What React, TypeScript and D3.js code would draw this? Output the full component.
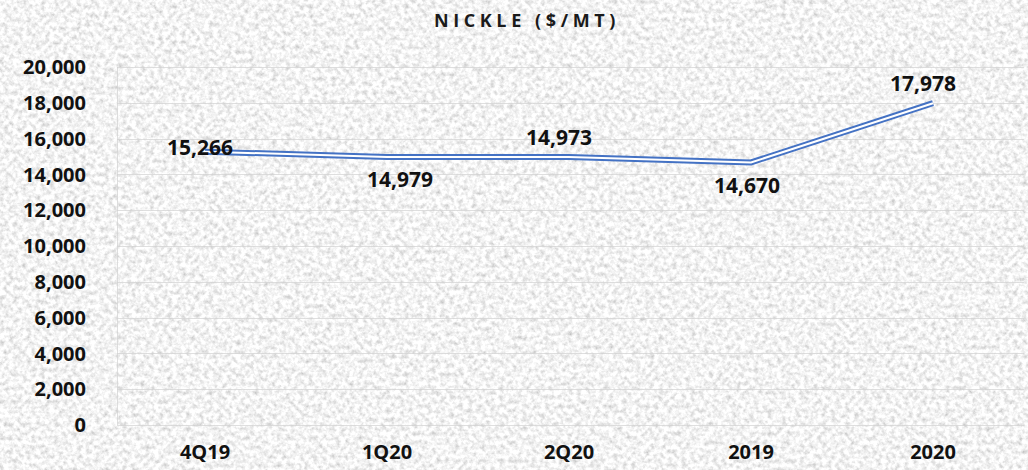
import React from "react";
import * as d3 from "d3";

// Nickel price by period ($/MT)
const categories = ["4Q19", "1Q20", "2Q20", "2019", "2020"];
const prices = [15266, 14979, 14973, 14670, 17978];
// where each value label sits relative to its point
const labelPlacement = ["center", "below", "above", "below", "above"];
const yTicks = [0, 2000, 4000, 6000, 8000, 10000, 12000, 14000, 16000, 18000, 20000];
const title = "NICKLE ($/MT)";

const W = 1028;
const H = 470;
const FONT = "'Open Sans', 'DejaVu Sans', sans-serif";

export default function App() {
  const x = d3.scalePoint<string>().domain(categories).range([114, 1024]).padding(0.5);
  const y = d3.scaleLinear().domain([0, 20000]).range([425, 67]);
  const fmt = d3.format(",");

  const pts = categories.map((c, i) => ({ c, v: prices[i], pos: labelPlacement[i] }));
  const line = d3
    .line<{ c: string; v: number }>()
    .x((d) => x(d.c) as number)
    .y((d) => y(d.v));
  const path = line(pts) || "";

  return (
    <svg
      width={W}
      height={H}
      style={{ position: "absolute", left: 0, top: 0, display: "block" }}
    >
      <defs>
        <filter id="granite" x="0" y="0" width={W} height={H} filterUnits="userSpaceOnUse">
          <feTurbulence type="fractalNoise" baseFrequency="0.22" numOctaves="3" seed="7" result="n" />
          <feColorMatrix
            in="n"
            type="matrix"
            values="0.8 0 0 0 0.5  0.8 0 0 0 0.5  0.8 0 0 0 0.5  0 0 0 0 1"
          />
        </filter>
      </defs>
      <rect x={0} y={0} width={W} height={H} fill="#e6e6e6" />
      <rect x={0} y={0} width={W} height={H} filter="url(#granite)" />

      {/* gridlines */}
      <g stroke="#d2d2d2" strokeOpacity={0.7} strokeWidth={1}>
        {yTicks.map((t) => (
          <line key={t} x1={117} x2={1024} y1={Math.round(y(t)) + 0.5} y2={Math.round(y(t)) + 0.5} />
        ))}
        <line x1={117.5} x2={117.5} y1={y(20000)} y2={y(0)} />
      </g>

      {/* title */}
      <text
        x={527}
        y={27}
        textAnchor="middle"
        fontFamily={FONT}
        fontWeight={700}
        fontSize={18}
        letterSpacing={4.6}
        fill="#1a1a1a"
      >
        {title}
      </text>

      {/* y axis labels */}
      <g fontFamily={FONT} fontWeight={700} fontSize={20} fill="#111">
        {yTicks.map((t) => (
          <text key={t} x={86} y={y(t)} dy="0.36em" textAnchor="end">
            {fmt(t)}
          </text>
        ))}
      </g>

      {/* x axis labels */}
      <g fontFamily={FONT} fontWeight={700} fontSize={20} fill="#111">
        {categories.map((c) => (
          <text key={c} x={x(c)} y={459} textAnchor="middle">
            {c}
          </text>
        ))}
      </g>

      {/* double-stroke line */}
      <path d={path} fill="none" stroke="#4472c4" strokeWidth={6} strokeLinejoin="miter" />
      <path d={path} fill="none" stroke="#ffffff" strokeWidth={2} strokeLinejoin="miter" />

      {/* value labels */}
      <g fontFamily={FONT} fontWeight={700} fontSize={21} fill="#111">
        {pts.map((d) => {
          const px = x(d.c) as number;
          const py = y(d.v);
          const oy = d.pos === "above" ? -20 : d.pos === "below" ? 23 : -4;
          const ox = d.pos === "center" ? -5 : d.pos === "below" ? (d.c === "1Q20" ? 13 : -4) : -10;
          return (
            <text key={d.c} x={px + ox} y={py + oy} dy="0.36em" textAnchor="middle">
              {fmt(d.v)}
            </text>
          );
        })}
      </g>
    </svg>
  );
}
